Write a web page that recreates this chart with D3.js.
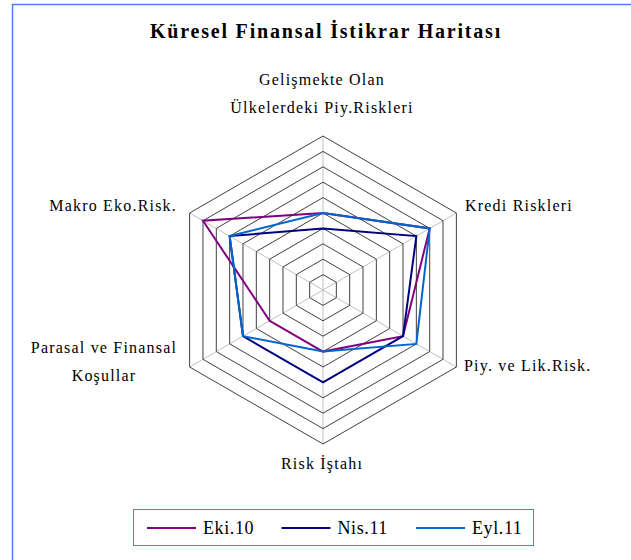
<!DOCTYPE html>
<html>
<head>
<meta charset="utf-8">
<script src="https://cdnjs.cloudflare.com/ajax/libs/d3/7.8.5/d3.min.js"></script>
<style>
    body { margin: 0; background: #fff; }
</style>
</head>
<body>
<div id="chart"></div>
<script>
/* global d3 */

var w = 631,
    h = 560;

// axes, clockwise from the top
var axes = ["Gelişmekte Olan|Ülkelerdeki Piy.Riskleri", "Kredi Riskleri", "Piy. ve Lik.Risk.",
    "Risk İştahı", "Parasal ve Finansal|Koşullar", "Makro Eko.Risk."];
var seriesNames = ["Eki.10", "Nis.11", "Eyl.11"];
var eki10 = [5, 8, 6, 4, 4, 9];
var nis11 = [4, 7, 6, 6, 6, 7];
var eyl11 = [5, 8, 7, 4, 6, 7];
var levels = [1, 2, 3, 4, 5, 6, 7, 8, 9, 10];

var color = d3.scaleOrdinal()
    .domain(seriesNames)
    .range(["#800080", "#000080", "#0066cc"]);

var cx = 323,
    cy = 290;
var r = d3.scaleLinear().domain([0, 10]).range([0, 154]);
var angle = d3.scalePoint().domain(d3.range(axes.length)).range([0, 2 * Math.PI * 5 / 6]);

var series = seriesNames.map(function(name, i) {
    return { name: name, values: [eki10, nis11, eyl11][i] };
});

var svg = d3.select("#chart").append("svg")
    .attr("width", w)
    .attr("height", h)
    .attr("font-family", "'Liberation Serif', 'Times New Roman', Times, serif");

// outer frame (right and bottom edges fall outside the picture)
svg.append("rect")
    .attr("x", 12.5)
    .attr("y", 4.5)
    .attr("width", 700)
    .attr("height", 700)
    .style("fill", "none")
    .style("stroke", "#4f7ff2")
    .style("stroke-width", 1.5);

svg.append("text")
    .attr("x", 326)
    .attr("y", 38)
    .attr("text-anchor", "middle")
    .style("font-size", "20px")
    .style("font-weight", "bold")
    .style("letter-spacing", "1.8px")
    .text("Küresel Finansal İstikrar Haritası");

var g = svg.append("g")
    .attr("transform", "translate(" + cx + "," + cy + ")");

var radial = d3.lineRadial()
    .angle(function(d, i) { return angle(i); })
    .radius(function(d) { return r(d); })
    .curve(d3.curveLinearClosed);

// spokes
g.selectAll(".spoke")
    .data(axes)
    .enter().append("line")
    .attr("class", "spoke")
    .attr("x1", 0)
    .attr("y1", 0)
    .attr("x2", function(d, i) { return r(10) * Math.sin(angle(i)); })
    .attr("y2", function(d, i) { return -r(10) * Math.cos(angle(i)); })
    .style("stroke", "#c0c0c0")
    .style("stroke-width", 1);

// hexagon rings
g.selectAll(".ring")
    .data(levels)
    .enter().append("path")
    .attr("class", "ring")
    .attr("d", function(lv) { return radial(axes.map(function() { return lv; })); })
    .style("fill", "none")
    .style("stroke", "#404040")
    .style("stroke-width", 1);

// series
g.selectAll(".series")
    .data(series)
    .enter().append("path")
    .attr("class", "series")
    .attr("d", function(d) { return radial(d.values); })
    .style("fill", "none")
    .style("stroke", function(d) { return color(d.name); })
    .style("stroke-width", 2)
    .style("stroke-linejoin", "miter");

// axis labels
var labelPos = [
    { x: 322, y: 85, anchor: "middle" },
    { x: 465, y: 211, anchor: "start" },
    { x: 464, y: 371, anchor: "start" },
    { x: 322, y: 469, anchor: "middle" },
    { x: 104, y: 353, anchor: "middle" },
    { x: 177, y: 211, anchor: "end" }
];

axes.forEach(function(label, i) {
    var t = svg.append("text")
        .attr("x", labelPos[i].x)
        .attr("y", labelPos[i].y)
        .attr("text-anchor", labelPos[i].anchor)
        .style("font-size", "16px")
        .style("letter-spacing", "1.2px");
    label.split("|").forEach(function(line, j) {
        t.append("tspan")
            .attr("x", labelPos[i].x)
            .attr("dy", j === 0 ? 0 : 28)
            .text(line);
    });
});

// legend
var legend = svg.append("g");

legend.append("rect")
    .attr("x", 133.5)
    .attr("y", 509.5)
    .attr("width", 400)
    .attr("height", 36)
    .style("fill", "#fff")
    .style("stroke", "#4f7ff2")
    .style("stroke-width", 1);

var legendX = d3.scalePoint().domain(seriesNames).range([147, 416]);

var items = legend.selectAll(".item")
    .data(seriesNames)
    .enter().append("g")
    .attr("class", "item")
    .attr("transform", function(d) { return "translate(" + legendX(d) + ",528)"; });

items.append("line")
    .attr("x1", 0)
    .attr("x2", 49)
    .attr("y1", 0)
    .attr("y2", 0)
    .style("stroke", function(d) { return color(d); })
    .style("stroke-width", 2);

items.append("text")
    .attr("x", 56)
    .attr("y", 6)
    .style("font-size", "18px")
    .style("letter-spacing", "0.6px")
    .text(function(d) { return d; });
</script>
</body>
</html>
